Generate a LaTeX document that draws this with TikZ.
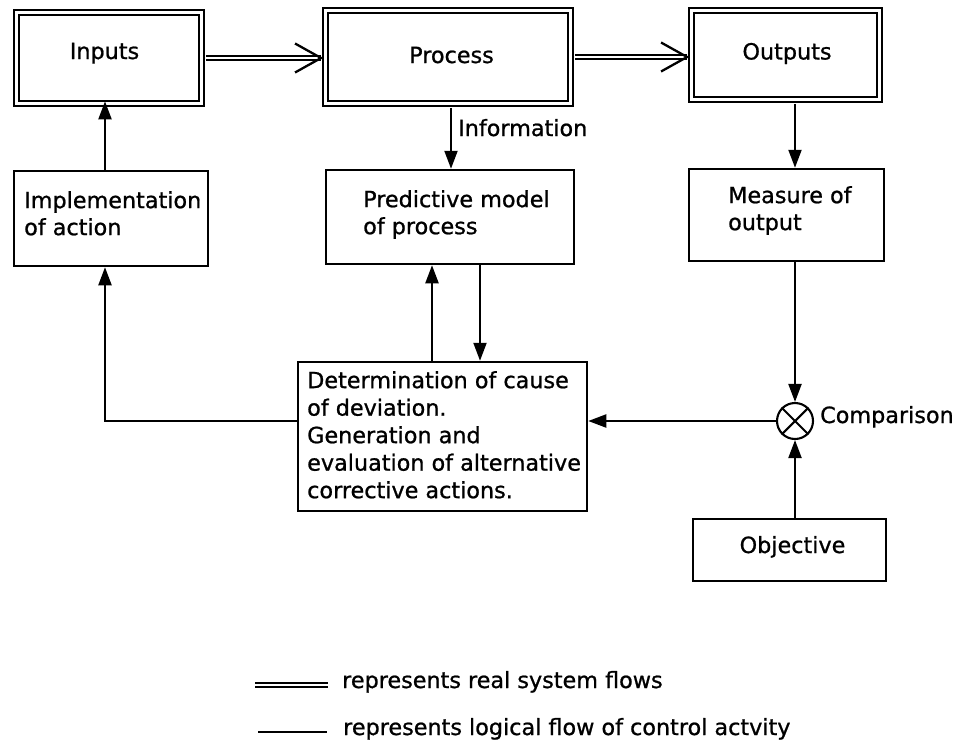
\documentclass[tikz,border=0pt]{standalone}
\usepackage{fontspec}
\setmainfont{DejaVu Sans}[FakeBold=0.9]
\usetikzlibrary{arrows.meta}
\begin{document}
\begin{tikzpicture}[x=1pt,y=-1pt,
  ln/.style={line width=2.1pt},
  box/.style={draw, ln, rectangle, inner sep=0pt},
  dbox/.style={draw, line width=1.9pt, double=white, double distance=3.0pt, rectangle, inner sep=0pt},
  txt/.style={font=\fontsize{22.3}{27}\selectfont, inner sep=0pt, align=left},
  arr/.style={ln, -{Triangle[length=18pt,width=13pt]}},
  real/.style={line width=1.7pt, double=white, double distance=2.4pt},
  chev/.style={line width=2.3pt, line join=miter}]
\useasboundingbox (0,0) rectangle (960,744);
\fill[white] (0,0) rectangle (960,744);

% real system boxes
\node[dbox, minimum width=185.4pt, minimum height=91.4pt] (in) at (109,58) {};
\node[dbox, minimum width=245.4pt, minimum height=93.4pt] (proc) at (448,57) {};
\node[dbox, minimum width=188.4pt, minimum height=89.4pt] (out) at (785.5,55) {};
\node[txt, anchor=base] (inT) at (104.5,59) {Inputs};
\node[txt, anchor=base] (procT) at (451.5,63) {Process};
\node[txt, anchor=base] (outT) at (787,59.5) {Outputs};

% control boxes
\node[box, minimum width=194.4pt, minimum height=95.4pt] (impl) at (111,218.5) {};
\node[box, minimum width=248.4pt, minimum height=94.4pt] (pred) at (450,217) {};
\node[box, minimum width=195.4pt, minimum height=92.4pt] (meas) at (786.5,215) {};
\node[box, minimum width=289.4pt, minimum height=149.4pt] (det) at (442.5,436.5) {};
\node[box, minimum width=193.4pt, minimum height=62.4pt] (obj) at (789.5,550) {};
\node[draw, ln, circle, minimum size=36pt, inner sep=0pt] (cmp) at (795,421) {};
\draw[ln] (cmp.north west) -- (cmp.south east);
\draw[ln] (cmp.north east) -- (cmp.south west);

\node[txt, anchor=north west] (implT) at (24,191) {Implementation\\of action};
\node[txt, anchor=north west] (predT) at (363,190) {Predictive model\\of process};
\node[txt, anchor=north west] (measT) at (728,186) {Measure of\\output};
\node[txt, anchor=north west, font=\fontsize{22.3}{27.5}\selectfont] (detT) at (307,371)
  {Determination of cause\\of deviation.\\Generation and\\evaluation of alternative\\corrective actions.};
\node[txt, anchor=base] (objT) at (792.5,553) {Objective};
\node[txt, anchor=base west] (cmpT) at (820,423) {Comparison};
\node[txt, anchor=base west] (infoT) at (458,136) {Information};

% real flows (double arrows)
\coordinate (a1) at (in.east -| proc.west);
\draw[real, shorten <=3.3pt] (in.east) -- ([xshift=-3.3pt]a1);
\draw[chev] ([shift={(-29.3,14.5)}]a1) -- ([xshift=-3.3pt]a1) -- ([shift={(-29.3,-14.5)}]a1);
\coordinate (a2) at (proc.east -| out.west);
\draw[real, shorten <=3.3pt] (proc.east) -- ([xshift=-3.3pt]a2);
\draw[chev] ([shift={(-29.3,14.5)}]a2) -- ([xshift=-3.3pt]a2) -- ([shift={(-29.3,-14.5)}]a2);

% control flows
\coordinate (lx) at (105,421);
\draw[arr, shorten <=3.3pt] (cmp |- out.south) -- (cmp |- meas.north);
\draw[arr] (cmp |- meas.south) -- (cmp.north);
\draw[arr] (cmp |- obj.north) -- (cmp.south);
\draw[arr] (cmp.west) -- (cmp.west -| det.east);
\draw[arr] (lx -| det.west) -- (lx) -- (lx |- impl.south);
\draw[arr, shorten >=-3.3pt] (lx |- impl.north) -- (lx |- in.south);
\draw[arr, shorten <=3.3pt] ([xshift=3pt]proc.south) -- ([xshift=3pt]proc.south |- pred.north);
\draw[arr] ([xshift=-18pt]pred.south |- det.north) -- ([xshift=-18pt]pred.south);
\draw[arr] ([xshift=30pt]pred.south) -- ([xshift=30pt]pred.south |- det.north);

% legend
\node[txt, anchor=base west] (leg1) at (342,688) {represents real system flows};
\node[txt, anchor=base west] (leg2) at (343,735) {represents logical flow of control actvity};
\coordinate (l1a) at (255,685);
\coordinate (l1b) at (328,685);
\coordinate (l2a) at (258,732);
\coordinate (l2b) at (327,732);
\draw[real] (l1a) -- (l1b);
\draw[ln] (l2a) -- (l2b);
\end{tikzpicture}
\end{document}
